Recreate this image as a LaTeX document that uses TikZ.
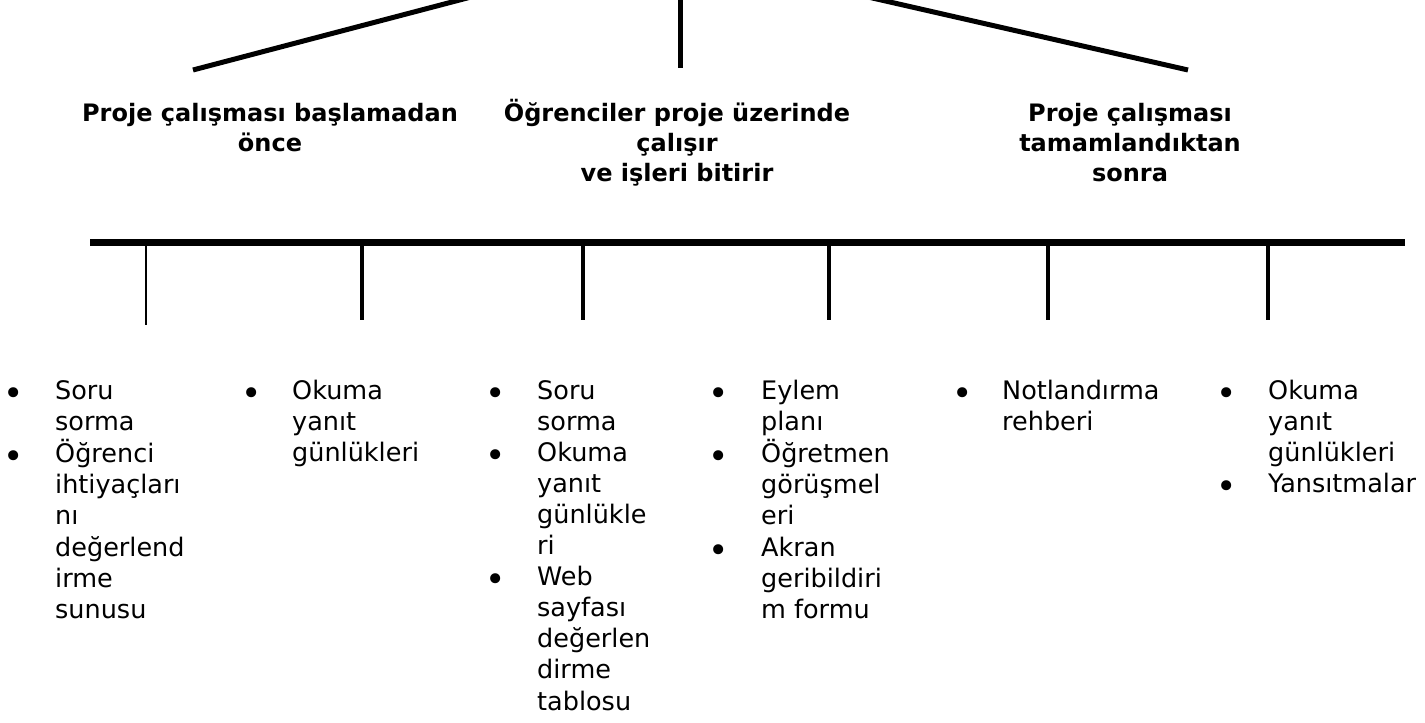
\documentclass[tikz,border=0pt]{standalone}
\usepackage{fontspec}
\setmainfont{DejaVu Sans}
\newcommand\bul{\makebox[0pt]{\raisebox{-6pt}{\scalebox{1.35}{\textbullet}}}}
\begin{document}
\begin{tikzpicture}[x=1pt,y=-1pt,
  head/.style={inner sep=0pt,anchor=base,font=\bfseries\fontsize{24}{30}\selectfont},
  items/.style={inner sep=0pt,anchor=base west,font=\fontsize{25.5}{31.1}\selectfont},
  conn/.style={line width=5pt},
  barline/.style={line width=7pt},
  tickline/.style={line width=3.5pt}]
\useasboundingbox (0,0) rectangle (1425,723);
% top connectors
\coordinate (ta) at (471,-3);
\coordinate (tae) at (193,70);
\coordinate (tb) at (680,-3);
\coordinate (tbe) at (680,68);
\coordinate (tc) at (868,-3);
\coordinate (tce) at (1188,70);
\draw[conn] (ta) -- (tae);
\draw[conn] (tb) -- (tbe);
\draw[conn] (tc) -- (tce);
% headings
\node[head] (h1) at (270,121) {\begin{tabular}[t]{@{}c@{}}Proje çalışması başlamadan\\önce\end{tabular}};
\node[head] (h2) at (677,121) {\begin{tabular}[t]{@{}c@{}}Öğrenciler proje üzerinde\\çalışır\\ve işleri bitirir\end{tabular}};
\node[head] (h3) at (1130,121) {\begin{tabular}[t]{@{}c@{}}Proje çalışması\\tamamlandıktan\\sonra\end{tabular}};
% bar and ticks
\coordinate (bl) at (90,242);
\coordinate (br) at (1405,242);
\draw[barline] (bl) -- (br);
\foreach \n/\x/\e/\w in {1/146/325/1.8pt,2/362/320/3.5pt,3/583/320/3.5pt,4/829/320/3.5pt,5/1048/320/3.5pt,6/1268/320/3.5pt}{
  \coordinate (k\n) at (\x,242);
  \coordinate (ke\n) at (\x,\e);
  \draw[line width=\w] (k\n) -- (ke\n);
}
% item lists
\node[items] (l1) at (13,399) {\begin{tabular}[t]{@{}l@{\hspace{42pt}}l@{}}
\bul & Soru\\ & sorma\\ \bul & Öğrenci\\ & ihtiyaçları\\ & nı\\ & değerlend\\ & irme\\ & sunusu\end{tabular}};
\node[items] (l2) at (251,399) {\begin{tabular}[t]{@{}l@{\hspace{41pt}}l@{}}
\bul & Okuma\\ & yanıt\\ & günlükleri\end{tabular}};
\node[items] (l3) at (495,399) {\begin{tabular}[t]{@{}l@{\hspace{42pt}}l@{}}
\bul & Soru\\ & sorma\\ \bul & Okuma\\ & yanıt\\ & günlükle\\ & ri\\ \bul & Web\\ & sayfası\\ & değerlen\\ & dirme\\ & tablosu\end{tabular}};
\node[items] (l4) at (718,399) {\begin{tabular}[t]{@{}l@{\hspace{43pt}}l@{}}
\bul & Eylem\\ & planı\\ \bul & Öğretmen\\ & görüşmel\\ & eri\\ \bul & Akran\\ & geribildiri\\ & m formu\end{tabular}};
\node[items] (l5) at (962,399) {\begin{tabular}[t]{@{}l@{\hspace{40pt}}l@{}}
\bul & Notlandırma\\ & rehberi\end{tabular}};
\node[items] (l6) at (1226,399) {\begin{tabular}[t]{@{}l@{\hspace{42pt}}l@{}}
\bul & Okuma\\ & yanıt\\ & günlükleri\\ \bul & Yansıtmalar\end{tabular}};
\end{tikzpicture}
\end{document}
